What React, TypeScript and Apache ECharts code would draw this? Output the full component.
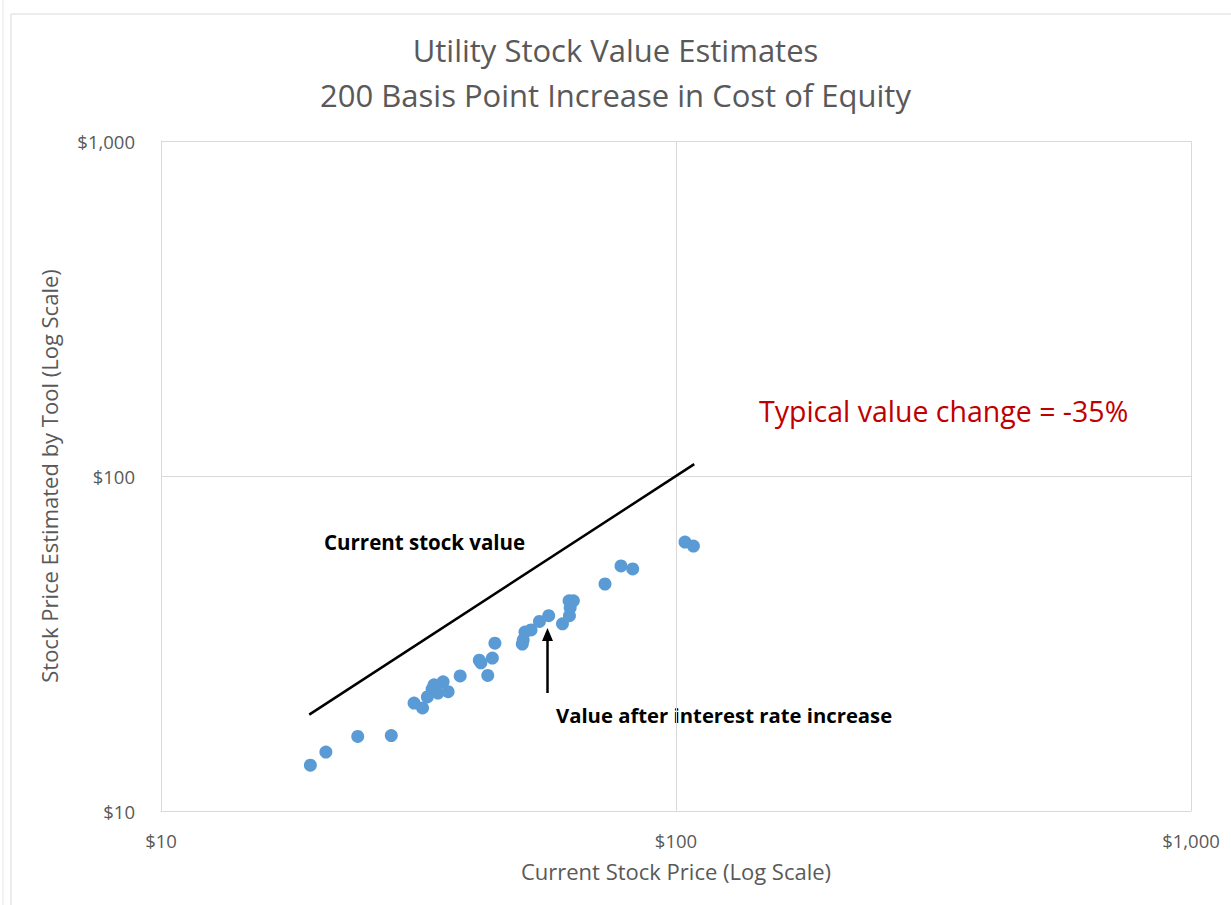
import React, { useEffect, useRef } from "react";
import * as echarts from "echarts";

const currentPrice = [
  19.5, 20.9, 24.1, 28.0, 31.0, 32.2, 32.9, 33.6, 33.9, 34.5, 35.3, 36.1, 38.1,
  41.5, 41.8, 43.1, 44.0, 44.5, 50.3, 50.5, 50.9, 52.3, 54.3, 56.6, 60.2, 62.1,
  62.0, 63.2, 62.3, 72.8, 78.2, 82.4, 104.1, 108.1,
];
const estimatedPrice = [
  13.7, 15.0, 16.7, 16.8, 21.0, 20.3, 21.9, 23.1, 23.8, 22.5, 24.3, 22.7, 25.3,
  28.2, 27.7, 25.4, 28.6, 31.7, 31.5, 32.4, 34.2, 34.7, 36.8, 38.3, 36.2, 38.3,
  42.4, 42.4, 40.4, 47.6, 53.9, 52.8, 63.5, 61.8,
];
const currentValueLine = [19.4, 108.5];
const tickValues = [10, 100, 1000];

const FONT = "'Open Sans', Lato, sans-serif";
const GREY = "#595959";

export default function App() {
  const ref = useRef<HTMLDivElement>(null);
  useEffect(() => {
    document.body.style.margin = "0";
    if (!ref.current) return;
    const chart = echarts.init(ref.current, null, { renderer: "svg" });
    const fmt = (v: number) =>
      tickValues.includes(Math.round(v)) ? "$" + Math.round(v).toLocaleString("en-US") : "";
    chart.setOption({
      animation: false,
      backgroundColor: "#ffffff",
      textStyle: { fontFamily: FONT },
      title: {
        text: "Utility Stock Value Estimates\n200 Basis Point Increase in Cost of Equity",
        left: "center",
        top: 22,
        textStyle: {
          fontFamily: FONT,
          fontSize: 31,
          fontWeight: "normal",
          color: GREY,
          lineHeight: 45,
        },
      },
      grid: { left: 161, top: 141, width: 1030, height: 670, containLabel: false },
      xAxis: {
        type: "log",
        logBase: 10,
        min: 10,
        max: 1000,
        name: "Current Stock Price (Log Scale)",
        nameLocation: "middle",
        nameGap: 49,
        nameTextStyle: { fontFamily: FONT, fontSize: 22, color: GREY },
        axisLine: { show: true, lineStyle: { color: "#d9d9d9", width: 1 } },
        axisTick: { show: false },
        axisLabel: { formatter: fmt, fontSize: 18.5, color: GREY, margin: 20, fontFamily: FONT },
        splitLine: { show: true, lineStyle: { color: "#d9d9d9", width: 1 } },
        minorTick: { show: false },
      },
      yAxis: {
        type: "log",
        logBase: 10,
        min: 10,
        max: 1000,
        name: "Stock Price Estimated by Tool (Log Scale)",
        nameLocation: "middle",
        nameGap: 101,
        nameRotate: 90,
        nameTextStyle: { fontFamily: FONT, fontSize: 22, color: GREY },
        axisLine: { show: true, lineStyle: { color: "#d9d9d9", width: 1 } },
        axisTick: { show: false },
        axisLabel: { formatter: fmt, fontSize: 18.5, color: GREY, margin: 26, fontFamily: FONT },
        splitLine: { show: true, lineStyle: { color: "#d9d9d9", width: 1 } },
      },
      series: [
        {
          name: "Current stock value",
          type: "line",
          data: currentValueLine.map((v) => [v, v]),
          symbol: "none",
          lineStyle: { color: "#000000", width: 2.5 },
          z: 3,
        },
        {
          name: "Value after interest rate increase",
          type: "scatter",
          data: currentPrice.map((x, i) => [x, estimatedPrice[i]]),
          symbol: "circle",
          symbolSize: 13,
          itemStyle: { color: "#5b9bd5", opacity: 1 },
          z: 4,
        },
      ],
      graphic: [
        {
          type: "line",
          shape: { x1: 3, y1: 0, x2: 3, y2: 905 },
          style: { stroke: "#e6e6e6", lineWidth: 1 },
          silent: true,
        },
        {
          type: "rect",
          shape: { x: 11, y: 14, width: 1240, height: 900 },
          style: { fill: "none", stroke: "#d9d9d9", lineWidth: 1 },
          silent: true,
        },
        {
          type: "text",
          x: 759,
          y: 411,
          style: {
            text: "Typical value change = -35%",
            fill: "#c00000",
            fontSize: 28.5,
            fontFamily: FONT,
            verticalAlign: "middle",
          },
        },
        {
          type: "text",
          x: 324,
          y: 542,
          style: {
            text: "Current stock value",
            fill: "#000000",
            fontSize: 20.5,
            fontWeight: "bold",
            fontFamily: FONT,
            verticalAlign: "middle",
          },
        },
        {
          type: "text",
          x: 556,
          y: 715,
          style: {
            text: "Value after interest rate increase",
            fill: "#000000",
            fontSize: 20.3,
            fontWeight: "bold",
            fontFamily: FONT,
            verticalAlign: "middle",
          },
        },
        {
          type: "line",
          shape: { x1: 547.5, y1: 693, x2: 547.5, y2: 638 },
          style: { stroke: "#000000", lineWidth: 2.5 },
        },
        {
          type: "polygon",
          shape: { points: [[547.5, 628], [542, 641], [553, 641]] },
          style: { fill: "#000000" },
        },
      ],
    });
    return () => chart.dispose();
  }, []);
  return <div ref={ref} style={{ width: 1231, height: 905 }} />;
}
